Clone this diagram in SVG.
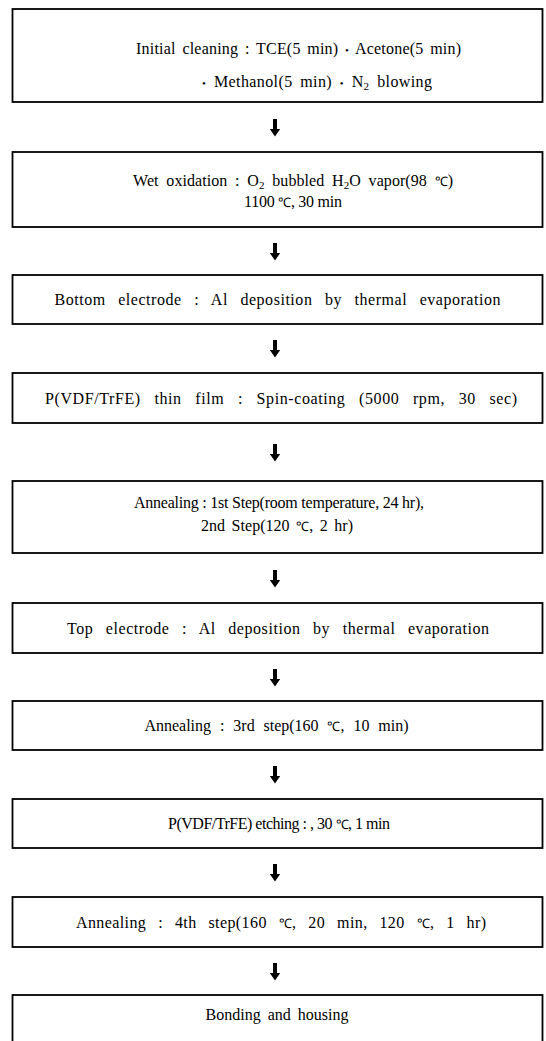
<svg xmlns="http://www.w3.org/2000/svg" width="546" height="1041" viewBox="0 0 546 1041">
<style>
.box{fill:#fff;stroke:#000;stroke-width:1.8}
.t{font-family:"Liberation Serif","Times New Roman",serif;font-size:16px;fill:#000;text-anchor:middle}
.s{font-size:11px}
.b{font-size:11px}
.c{font-size:13px}
.arr{fill:#000}
</style>
<defs>
<path id="arrow" d="M-2,0 H2 V10 H5.2 L0,17.5 L-5.2,10 H-2 Z"/>
</defs>
<rect width="546" height="1041" fill="#fff"/>
<g id="connectors" class="arr">
<use href="#arrow" x="275" y="119"/>
<use href="#arrow" x="275" y="243"/>
<use href="#arrow" x="275" y="340"/>
<use href="#arrow" x="275" y="444"/>
<use href="#arrow" x="275" y="570"/>
<use href="#arrow" x="275" y="669"/>
<use href="#arrow" x="275" y="766"/>
<use href="#arrow" x="275" y="864"/>
<use href="#arrow" x="275" y="963"/>
</g>
<g id="n1">
<rect class="box" x="12.5" y="9" width="530" height="93"/>
<text class="t" x="298.5" y="54" word-spacing="2.5" textLength="325" lengthAdjust="spacing">Initial cleaning : TCE(5 min)  <tspan class="b">•</tspan> Acetone(5 min)</text>
<text class="t" x="317" y="87" word-spacing="3.3" textLength="230" lengthAdjust="spacing"><tspan class="b">•</tspan> Methanol(5 min)  <tspan class="b">•</tspan> N<tspan class="s" dy="3">2</tspan><tspan dy="-3"> blowing</tspan></text>
</g>
<g id="n2">
<rect class="box" x="12.5" y="152" width="530" height="75"/>
<text class="t" x="293" y="186" word-spacing="3.7" textLength="320" lengthAdjust="spacing">Wet oxidation : O<tspan class="s" dy="3">2</tspan><tspan dy="-3"> bubbled H</tspan><tspan class="s" dy="3">2</tspan><tspan dy="-3">O vapor(98 </tspan><tspan class="c">℃</tspan>)</text>
<text class="t" x="293" y="207" textLength="98" lengthAdjust="spacing">1100 <tspan class="c">℃</tspan>, 30 min</text>
</g>
<g id="n3">
<rect class="box" x="12.5" y="275" width="530" height="49"/>
<text class="t" x="277.5" y="305" word-spacing="8" textLength="446" lengthAdjust="spacing">Bottom electrode : Al deposition by thermal evaporation</text>
</g>
<g id="n4">
<rect class="box" x="12.5" y="373" width="530" height="50"/>
<text class="t" x="281" y="403.5" word-spacing="9" textLength="472" lengthAdjust="spacing">P(VDF/TrFE) thin film : Spin-coating (5000 rpm, 30 sec)</text>
</g>
<g id="n5">
<rect class="box" x="12.5" y="481" width="530" height="72"/>
<text class="t" x="279" y="508" textLength="290" lengthAdjust="spacing">Annealing : 1st Step(room temperature, 24 hr),</text>
<text class="t" x="277" y="531" word-spacing="2.5" textLength="152" lengthAdjust="spacing">2nd Step(120 <tspan class="c">℃</tspan>, 2 hr)</text>
</g>
<g id="n6">
<rect class="box" x="12.5" y="603" width="530" height="50"/>
<text class="t" x="278" y="633.5" word-spacing="8" textLength="422" lengthAdjust="spacing">Top electrode : Al deposition by thermal evaporation</text>
</g>
<g id="n7">
<rect class="box" x="12.5" y="701" width="530" height="49"/>
<text class="t" x="276.5" y="731" word-spacing="5" textLength="264" lengthAdjust="spacing">Annealing : 3rd step(160 <tspan class="c">℃</tspan>, 10 min)</text>
</g>
<g id="n8">
<rect class="box" x="12.5" y="799" width="530" height="49"/>
<text class="t" x="279" y="829" textLength="222" lengthAdjust="spacing">P(VDF/TrFE) etching : , 30 <tspan class="c">℃</tspan>, 1 min</text>
</g>
<g id="n9">
<rect class="box" x="12.5" y="897" width="530" height="50"/>
<text class="t" x="281" y="927.5" word-spacing="7.5" textLength="410" lengthAdjust="spacing">Annealing : 4th step(160 <tspan class="c">℃</tspan>, 20 min, 120 <tspan class="c">℃</tspan>, 1 hr)</text>
</g>
<g id="n10">
<rect class="box" x="12.5" y="995" width="530" height="60"/>
<text class="t" x="277" y="1020" word-spacing="3" textLength="143" lengthAdjust="spacing">Bonding and housing</text>
</g>
</svg>
